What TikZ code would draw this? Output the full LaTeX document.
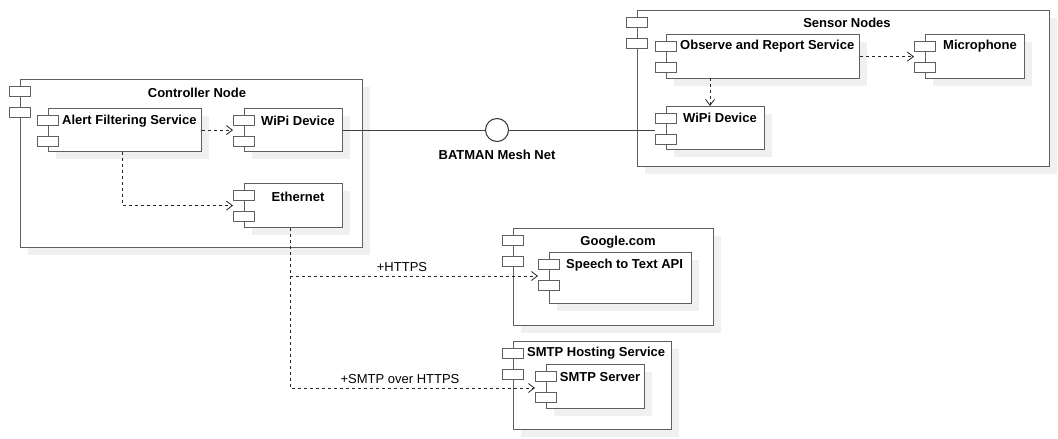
\documentclass[tikz,border=0pt]{standalone}
\usepackage{fontspec}
\setmainfont{Liberation Sans}
\usetikzlibrary{arrows.meta,shadows}
\definecolor{boxline}{RGB}{95,95,95}
\definecolor{shadowc}{RGB}{240,240,240}
\tikzset{
  compbox/.style={draw=boxline, line width=1.2pt, fill=white, inner sep=0pt,
    anchor=north west, drop shadow={shadow xshift=7pt, shadow yshift=-7pt, opacity=1, fill=shadowc}},
  comptab/.style={draw=boxline, line width=1.1pt, fill=white, inner sep=0pt,
    minimum width=21pt, minimum height=10pt, anchor=north west},
  ttl/.style={font=\bfseries\fontsize{13}{15}\selectfont, inner sep=0pt},
  lbl/.style={font=\fontsize{13}{15}\selectfont, inner sep=0pt},
  dep/.style={draw=black!85, line width=1pt, dash pattern=on 3pt off 3pt,
    -{Straight Barb[length=6pt,width=9pt,line width=0.8pt]}},
  wire/.style={draw=black!75, line width=1pt},
}
\newcommand{\umlcomp}[5]{%
  \node[compbox, minimum width=#4pt, minimum height=#5pt] (#1) at (#2,#3) {};
  \node[comptab] (#1t1) at (#2-11,#3+7) {};
  \node[comptab] (#1t2) at (#2-11,#3+28) {};
}
\begin{document}
\begin{tikzpicture}[x=1pt,y=-1pt]
\useasboundingbox (0,0) rectangle (1058,439);
% Controller Node
\umlcomp{ctrl}{20}{79}{342}{168}
\node[ttl] (ctrlT) at (197,93) {Controller Node};
\umlcomp{alert}{48}{108}{153}{43}
\node[ttl, anchor=west] (alertT) at (62,121) {Alert Filtering Service};
\umlcomp{wipiA}{244}{108}{98}{43}
\node[ttl] (wipiAT) at (298,121) {WiPi Device};
\umlcomp{eth}{244}{183}{98}{44}
\node[ttl] (ethT) at (298,197) {Ethernet};
% Sensor Nodes
\umlcomp{sens}{637}{10}{412}{156}
\node[ttl] (sensT) at (847,23) {Sensor Nodes};
\umlcomp{obs}{666}{34}{193}{44}
\node[ttl, anchor=west] (obsT) at (680,46) {Observe and Report Service};
\umlcomp{mic}{925}{34}{99}{44}
\node[ttl] (micT) at (980,46) {Microphone};
\umlcomp{wipiB}{666}{106}{98}{43}
\node[ttl] (wipiBT) at (720,118) {WiPi Device};
% Google
\umlcomp{goog}{513}{228}{200}{97}
\node[ttl] (googT) at (618,242) {Google.com};
\umlcomp{stt}{549}{252}{142}{51}
\node[ttl, anchor=west] (sttT) at (566,265) {Speech to Text API};
% SMTP
\umlcomp{host}{513}{341}{158}{88}
\node[ttl, anchor=west] (hostT) at (527,353) {SMTP Hosting Service};
\umlcomp{smtp}{546}{364}{98}{44}
\node[ttl] (smtpT) at (600,377) {SMTP Server};
% Network
\node[circle, draw=black!80, line width=1pt, fill=white, minimum size=23pt, inner sep=0pt] (net) at (497,130) {};
\node[ttl] (netT) at (497,155) {BATMAN Mesh Net};
\draw[wire] (wipiA.east |- net.west) -- (net.west);
\draw[wire] (net.east) -- (wipiBt2.west |- net.east);
% dependencies
\draw[dep] (alert.east) -- (wipiAt2.west |- alert.east);
\draw[dep] (alert.south -| 122,0) |- (etht2.west |- eth.west);
\draw[dep] (obs.east) -- (mict2.west |- obs.east);
\draw[dep] (wipiB.north -| 710,0) ++(0,-28) -- (wipiB.north -| 710,0);
\coordinate (ethS) at (eth.south -| 290,0);
\draw[dep] (ethS) |- (sttt2.west |- 0,276);
\draw[dep] (ethS) |- (smtpt2.west |- 0,388);
\node[lbl] (https) at (402,267) {+HTTPS};
\node[lbl] (smtpl) at (400,379) {+SMTP over HTTPS};
\end{tikzpicture}
\end{document}
